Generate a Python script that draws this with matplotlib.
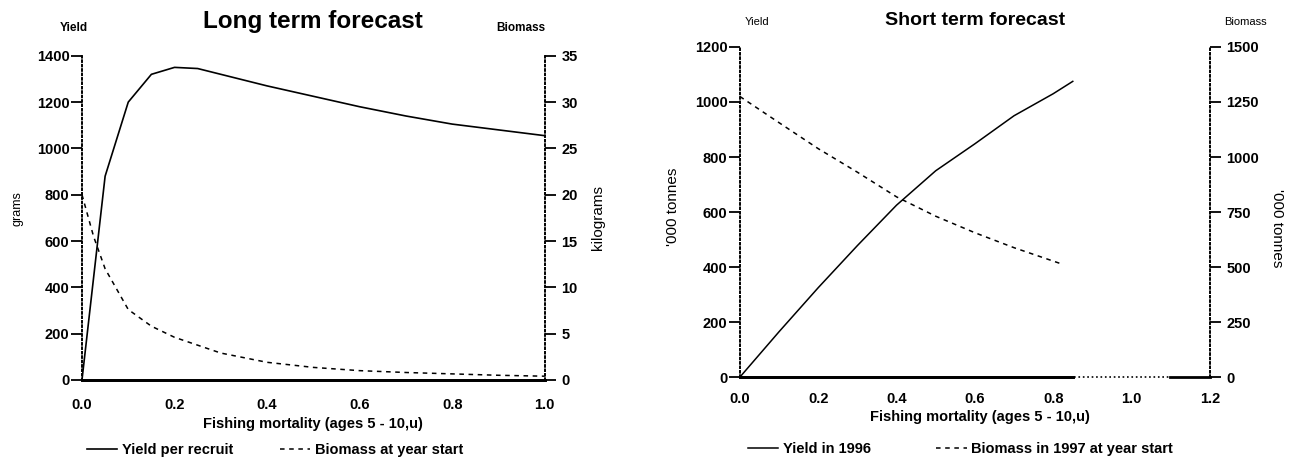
import matplotlib.pyplot as plt

plt.rcParams['font.family'] = ['Liberation Sans', 'DejaVu Sans']

# long term forecast
f_long = [0.0, 0.05, 0.1, 0.15, 0.2, 0.25, 0.3, 0.4, 0.5, 0.6, 0.7, 0.8, 0.9, 1.0]
yield_per_recruit = [0, 880, 1200, 1320, 1350, 1345, 1320, 1270, 1225, 1180, 1140, 1105, 1080, 1055]
f_bio_long = [0.0, 0.025, 0.05, 0.1, 0.15, 0.2, 0.3, 0.4, 0.5, 0.6, 0.7, 0.8, 0.9, 1.0]
biomass_start = [20.0, 15.5, 12.0, 7.6, 5.8, 4.6, 2.9, 1.9, 1.35, 1.0, 0.8, 0.65, 0.5, 0.4]

# short term forecast
f_short = [0.0, 0.1, 0.2, 0.3, 0.4, 0.5, 0.6, 0.7, 0.8, 0.85]
yield_1996 = [0, 165, 325, 478, 625, 750, 848, 950, 1030, 1075]
f_bio_short = [0.0, 0.1, 0.2, 0.3, 0.4, 0.5, 0.6, 0.7, 0.82]
biomass_1997 = [1275, 1156, 1038, 931, 819, 731, 656, 588, 515]

tick_fs = 10.5
txt_fs = 10.5


def style(ax, ax2, xpad):
    for a in (ax, ax2):
        a.spines['top'].set_visible(False)
        a.spines['left'].set_linestyle(':')
        a.spines['right'].set_linestyle(':')
        a.spines['left'].set_linewidth(1.2)
        a.spines['right'].set_linewidth(1.2)
        a.spines['bottom'].set_linewidth(2)
    ax.tick_params(axis='y', direction='out', length=8, width=1.3, pad=1, labelsize=tick_fs)
    ax2.tick_params(axis='y', direction='out', length=8, width=1.3, pad=4, labelsize=tick_fs)
    ax.tick_params(axis='x', length=0, pad=xpad, labelsize=tick_fs)
    for lab in ax.get_xticklabels() + ax.get_yticklabels() + ax2.get_yticklabels():
        lab.set_fontweight('bold')


fig = plt.figure(figsize=(12.89, 4.65), dpi=100)

# ---- left panel
ax = fig.add_axes([0.0636, 0.183, 0.359, 0.697])
ax2 = ax.twinx()
l1, = ax.plot(f_long, yield_per_recruit, color='black', lw=1.2)
l2, = ax2.plot(f_bio_long, biomass_start, color='black', lw=1.1, ls=(0, (3, 3)))
ax.set_xlim(0, 1.0)
ax.set_ylim(0, 1400)
ax2.set_ylim(0, 35)
ax.set_xticks([0, 0.2, 0.4, 0.6, 0.8, 1.0])
ax.set_xticklabels(['0.0', '0.2', '0.4', '0.6', '0.8', '1.0'])
ax.set_yticks(range(0, 1401, 200))
ax2.set_yticks(range(0, 36, 5))
style(ax, ax2, 13)
ax.set_xlabel('Fishing mortality (ages 5 - 10,u)', fontsize=txt_fs, fontweight='bold')
ax.xaxis.set_label_coords(0.5, -0.115)
ax.set_ylabel('grams', fontsize=9)
ax.yaxis.set_label_coords(-0.127, 0.53)
ax2.set_ylabel('kilograms', fontsize=11, rotation=90)
ax2.yaxis.set_label_coords(1.1, 0.5)
ax.set_title('Long term forecast', fontsize=17.5, fontweight='bold', pad=20)
fig.text(0.057, 0.94, 'Yield', fontsize=8.5, fontweight='bold', ha='center', va='center')
fig.text(0.404, 0.94, 'Biomass', fontsize=8.5, fontweight='bold', ha='center', va='center')
fig.legend([l1, l2], ['Yield per recruit', 'Biomass at year start'], loc='center',
           bbox_to_anchor=(0.2133, 0.032), ncol=2, frameon=False,
           prop={'size': txt_fs, 'weight': 'bold'},
           handlelength=2.1, handletextpad=0.3, columnspacing=3.2)

# ---- right panel
bx = fig.add_axes([0.574, 0.189, 0.3646, 0.71])
bx2 = bx.twinx()
m1, = bx.plot(f_short, yield_1996, color='black', lw=1.1)
m2, = bx2.plot(f_bio_short, biomass_1997, color='black', lw=1.1, ls=(0, (3, 3)))
bx.set_xlim(0, 1.2)
bx.set_ylim(0, 1200)
bx2.set_ylim(0, 1500)
bx.set_xticks([0, 0.2, 0.4, 0.6, 0.8, 1.0, 1.2])
bx.set_xticklabels(['0.0', '0.2', '0.4', '0.6', '0.8', '1.0', '1.2'])
bx.set_yticks(range(0, 1201, 200))
bx2.set_yticks(range(0, 1501, 250))
style(bx, bx2, 11)
for a in (bx, bx2):
    a.spines['bottom'].set_bounds(0, 0.85)
bx.axhline(0, xmin=0.71, xmax=0.915, color='black', lw=1.2, ls=':', clip_on=False)
bx.axhline(0, xmin=0.915, xmax=1.0, color='black', lw=2, clip_on=False)
bx.set_xlabel('Fishing mortality (ages 5 - 10,u)', fontsize=txt_fs, fontweight='bold')
bx.xaxis.set_label_coords(0.51, -0.10)
bx.set_ylabel("'000 tonnes", fontsize=11)
bx.yaxis.set_label_coords(-0.128, 0.515)
bx2.set_ylabel("'000 tonnes", fontsize=11, rotation=270, va='center')
bx2.yaxis.set_label_coords(1.143, 0.45)
bx.set_title('Short term forecast', fontsize=14, fontweight='bold', pad=16)
fig.text(0.587, 0.952, 'Yield', fontsize=8, ha='center', va='center')
fig.text(0.966, 0.952, 'Biomass', fontsize=8, ha='center', va='center')
fig.legend([m1, m2], ['Yield in 1996', 'Biomass in 1997 at year start'], loc='center',
           bbox_to_anchor=(0.745, 0.035), ncol=2, frameon=False,
           prop={'size': txt_fs, 'weight': 'bold'},
           handlelength=2.1, handletextpad=0.3, columnspacing=4.5)

plt.savefig('out.png', dpi=100)
plt.close()
